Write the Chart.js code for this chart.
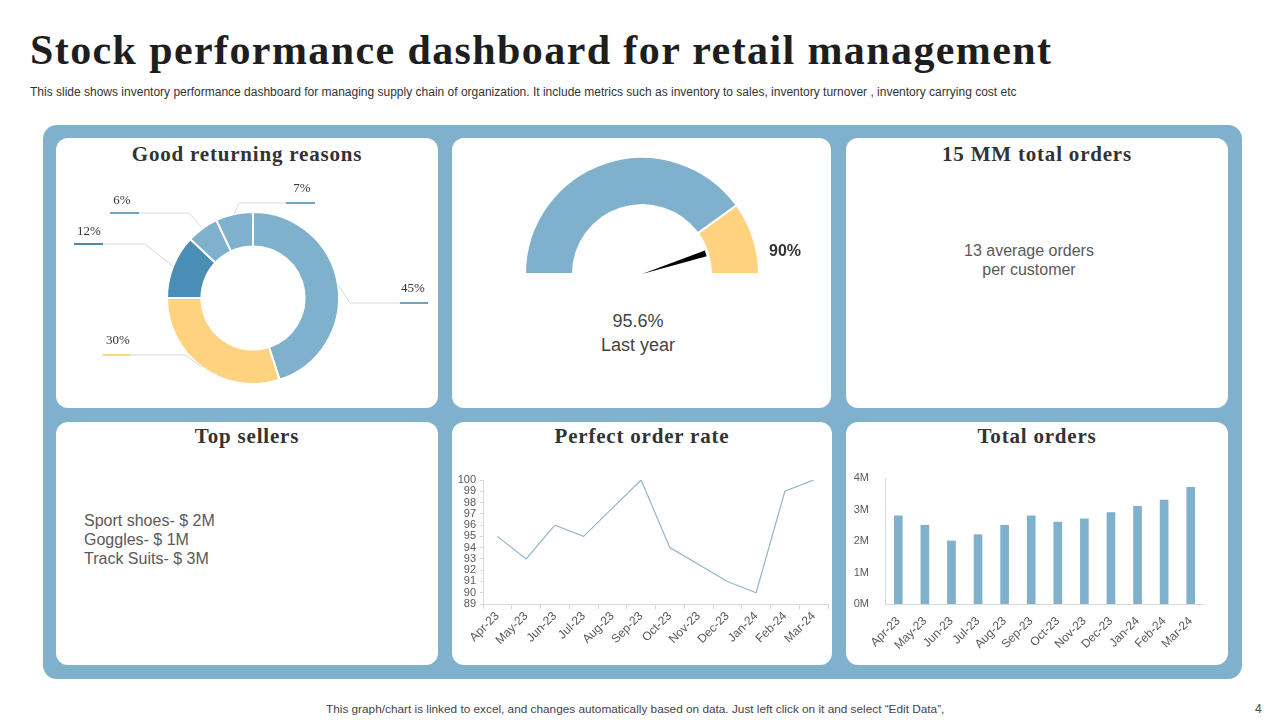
<!DOCTYPE html>
<html>
<head>
<meta charset="utf-8">
<script src="https://cdn.jsdelivr.net/npm/chart.js@4.4.1/dist/chart.umd.min.js"></script>
<style>
  body { margin:0; width:1280px; height:720px; background:#fff; position:relative; overflow:hidden;
         font-family:"Liberation Sans", Arial, sans-serif; color:#595959; }
  h1 { position:absolute; left:30px; top:26px; margin:0; font:bold 42px "Liberation Serif", serif; letter-spacing:1.4px; color:#1e1e1e; white-space:nowrap; }
  .sub { position:absolute; left:30px; top:85px; font-size:12px; color:#333; white-space:nowrap; }
  .frame { position:absolute; left:43px; top:125px; width:1199px; height:554px; background:#7fb1cd; border-radius:14px; }
  .panel { position:absolute; background:#fff; border-radius:12px; }
  .ptitle { position:absolute; left:0; right:0; text-align:center; font:bold 21px "Liberation Serif", serif; letter-spacing:0.8px; color:#333; }
  .txt { position:absolute; font-size:16px; color:#595959; line-height:19px; }
  .box { position:absolute; }
  .foot { position:absolute; left:326px; top:702px; font-size:11.8px; color:#444; white-space:nowrap; }
  .pnum { position:absolute; left:1255px; top:702px; font-size:12px; color:#444; }
</style>
</head>
<body>
<h1>Stock performance dashboard for retail management</h1>
<div class="sub">This slide shows inventory performance dashboard for managing supply chain of organization. It include metrics such as inventory to sales, inventory turnover ,  inventory carrying cost etc</div>

<div class="frame"></div>

<div class="panel" style="left:56px;top:138px;width:382px;height:270px"><div class="ptitle" style="top:4px">Good returning reasons</div></div>
<div class="panel" style="left:452px;top:138px;width:379px;height:270px"></div>
<div class="panel" style="left:846px;top:138px;width:382px;height:270px"><div class="ptitle" style="top:4px">15 MM total orders</div></div>
<div class="panel" style="left:56px;top:422px;width:382px;height:243px"><div class="ptitle" style="top:2px">Top sellers</div></div>
<div class="panel" style="left:452px;top:422px;width:380px;height:243px"><div class="ptitle" style="top:2px">Perfect order rate</div></div>
<div class="panel" style="left:846px;top:422px;width:382px;height:243px"><div class="ptitle" style="top:2px">Total orders</div></div>

<div class="box" style="left:56px;top:160px;width:394px;height:276px"><canvas id="donut"></canvas></div>
<div class="box" style="left:452px;top:142px;width:380px;height:153px"><canvas id="gauge"></canvas></div>
<div class="txt" style="left:452px;top:309px;width:372px;text-align:center;font-size:18px;line-height:24px;color:#444">95.6%<br>Last year</div>

<div class="txt" style="left:846px;top:241px;width:366px;text-align:center">13 average orders<br>per customer</div>
<div class="txt" style="left:84px;top:511px">Sport shoes- $ 2M<br>Goggles- $ 1M<br>Track Suits- $ 3M</div>

<div class="box" style="left:452px;top:465px;width:380px;height:195px"><canvas id="rate"></canvas></div>
<div class="box" style="left:846px;top:463px;width:382px;height:197px"><canvas id="orders"></canvas></div>

<div class="foot">This graph/chart is linked to excel,  and changes automatically based on data. Just left click on it and select “Edit Data”,</div>
<div class="pnum">4</div>

<script>
const RETURN_SHARES  = [45, 30, 12, 6, 7];
const RETURN_LABELS  = ["45%", "30%", "12%", "6%", "7%"];
const GAUGE_BANDS    = [80, 20];
const GAUGE_VALUE    = 90;
const MONTHS         = ["Apr-23","May-23","Jun-23","Jul-23","Aug-23","Sep-23","Oct-23","Nov-23","Dec-23","Jan-24","Feb-24","Mar-24"];
const ORDER_RATE     = [95, 93, 96, 95, 97.5, 100, 94, 92.5, 91, 90, 99, 100];
const TOTAL_ORDERS_M = [2.8, 2.5, 2.0, 2.2, 2.5, 2.8, 2.6, 2.7, 2.9, 3.1, 3.3, 3.7];

const BLUE   = "#7fb1cd";
const YELLOW = "#ffd27f";
const DARK   = "#4a8db5";
const AXIS   = "#d9d9d9";
const TICK   = "#595959";

Chart.defaults.font.family = '"Liberation Sans", Arial, sans-serif';
Chart.defaults.animation = false;

// label placement around the donut, offsets from the donut centre
const LABEL_LAYOUT = [
  { elbow: [ 97,   5], line: [ 147,  175,   5], text: [ 160,  -9], color: "#6fa5c2" },
  { elbow: [-68,  57], line: [-123, -150,  57], text: [-135,  43], color: YELLOW },
  { elbow: [-108,-54], line: [-150, -179, -54], text: [-164, -66], color: "#4f8aa6" },
  { elbow: [-64, -85], line: [-114, -143, -85], text: [-131, -97], color: "#6fa5c2" },
  { elbow: [-14, -95], line: [  33,   62, -95], text: [  49,-109], color: "#6fa5c2" },
];

const donutLabels = {
  id: "donutLabels",
  afterDraw(chart) {
    const ctx = chart.ctx;
    chart.getDatasetMeta(0).data.forEach((arc, i) => {
      const L = LABEL_LAYOUT[i];
      const mid = (arc.startAngle + arc.endAngle) / 2;
      const cx = arc.x, cy = arc.y;
      const px = cx + Math.cos(mid) * arc.outerRadius;
      const py = cy + Math.sin(mid) * arc.outerRadius;
      ctx.save();
      ctx.strokeStyle = "#d9d9d9";
      ctx.lineWidth = 1;
      ctx.beginPath();
      ctx.moveTo(px, py);
      ctx.lineTo(cx + L.elbow[0], cy + L.elbow[1]);
      ctx.lineTo(cx + L.line[0], cy + L.line[2]);
      ctx.stroke();
      ctx.strokeStyle = L.color;
      ctx.lineWidth = 2;
      ctx.beginPath();
      ctx.moveTo(cx + L.line[0], cy + L.line[2]);
      ctx.lineTo(cx + L.line[1], cy + L.line[2]);
      ctx.stroke();
      ctx.fillStyle = "#333";
      ctx.font = '13px "Liberation Serif", serif';
      ctx.textAlign = "center";
      ctx.textBaseline = "middle";
      ctx.fillText(RETURN_LABELS[i], cx + L.text[0], cy + L.text[1]);
      ctx.restore();
    });
  }
};

new Chart(document.getElementById("donut"), {
  type: "doughnut",
  data: {
    labels: RETURN_LABELS,
    datasets: [{
      data: RETURN_SHARES,
      backgroundColor: [BLUE, YELLOW, DARK, BLUE, BLUE],
      borderColor: "#fff",
      borderWidth: 2,
    }],
  },
  options: {
    responsive: true,
    maintainAspectRatio: false,
    cutout: "60%",
    layout: { padding: { top: 51, bottom: 51 } },
    plugins: { legend: { display: false }, tooltip: { enabled: false } },
  },
  plugins: [donutLabels],
});

const gaugeNeedle = {
  id: "gaugeNeedle",
  afterDraw(chart) {
    const arc = chart.getDatasetMeta(0).data[0];
    const ctx = chart.ctx;
    const cx = arc.x, cy = arc.y;
    const a = Math.PI + (GAUGE_VALUE / 100) * Math.PI;
    const len = arc.innerRadius - 2;
    const tx = cx + Math.cos(a) * len, ty = cy + Math.sin(a) * len;
    const nx = -Math.sin(a) * 3, ny = Math.cos(a) * 3;
    ctx.save();
    ctx.fillStyle = "#000";
    ctx.beginPath();
    ctx.moveTo(cx, cy);
    ctx.lineTo(tx + nx, ty + ny);
    ctx.lineTo(tx - nx, ty - ny);
    ctx.closePath();
    ctx.fill();
    ctx.fillStyle = "#333";
    ctx.font = 'bold 16px "Liberation Sans", Arial, sans-serif';
    ctx.textAlign = "center";
    ctx.textBaseline = "middle";
    ctx.fillText(GAUGE_VALUE + "%", cx + arc.outerRadius + 26, cy - 22);
    ctx.restore();
  }
};

new Chart(document.getElementById("gauge"), {
  type: "doughnut",
  data: {
    labels: ["Target", "Gap"],
    datasets: [{
      data: GAUGE_BANDS,
      backgroundColor: [BLUE, YELLOW],
      borderColor: "#fff",
      borderWidth: 2,
    }],
  },
  options: {
    responsive: true,
    maintainAspectRatio: false,
    rotation: -90,
    circumference: 180,
    cutout: "59%",
    layout: { padding: { top: 14, bottom: 20, left: 71, right: 71 } },
    plugins: { legend: { display: false }, tooltip: { enabled: false } },
  },
  plugins: [gaugeNeedle],
});

new Chart(document.getElementById("rate"), {
  type: "line",
  data: {
    labels: MONTHS,
    datasets: [{
      data: ORDER_RATE,
      borderColor: "#8fb4cc",
      borderWidth: 1.2,
      pointRadius: 0,
      tension: 0,
    }],
  },
  options: {
    responsive: true,
    maintainAspectRatio: false,
    layout: { padding: { top: 15, right: 4 } },
    plugins: { legend: { display: false }, tooltip: { enabled: false } },
    scales: {
      x: {
        offset: true,
        grid: { display: true, drawOnChartArea: false, drawTicks: true, tickLength: 5, offset: true, color: AXIS },
        border: { color: AXIS },
        ticks: { color: TICK, font: { size: 12 }, maxRotation: 45, minRotation: 45, autoSkip: false, padding: 0 },
        afterFit: s => { s.height = 56; },
      },
      y: {
        min: 89, max: 100,
        grid: { display: true, drawOnChartArea: false, drawTicks: true, tickLength: 3, color: AXIS },
        border: { color: AXIS },
        ticks: { color: TICK, font: { size: 11 }, stepSize: 1, padding: 4, autoSkip: false },
        afterFit: s => { s.width = 31; },
      },
    },
  },
});

new Chart(document.getElementById("orders"), {
  type: "bar",
  data: {
    labels: MONTHS,
    datasets: [{
      data: TOTAL_ORDERS_M,
      backgroundColor: BLUE,
      barThickness: 8,
    }],
  },
  options: {
    responsive: true,
    maintainAspectRatio: false,
    layout: { padding: { top: 15, right: 24 } },
    plugins: { legend: { display: false }, tooltip: { enabled: false } },
    scales: {
      x: {
        grid: { display: false },
        border: { display: true, color: AXIS },
        ticks: { color: TICK, font: { size: 12 }, maxRotation: 45, minRotation: 45, autoSkip: false, padding: 2 },
        afterFit: s => { s.height = 56; },
      },
      y: {
        min: 0, max: 4,
        grid: { display: false },
        border: { display: true, color: AXIS },
        ticks: { color: TICK, font: { size: 11 }, stepSize: 1, padding: 8, callback: v => v + "M" },
        afterFit: s => { s.width = 39; },
      },
    },
  },
});
</script>
</body>
</html>
